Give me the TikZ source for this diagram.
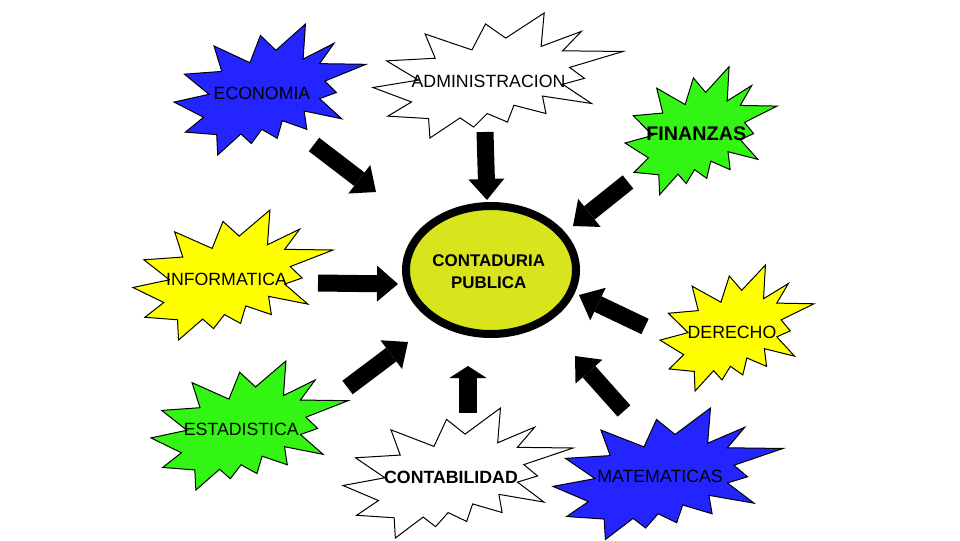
\documentclass[tikz,border=0pt]{standalone}
\usepackage{fontspec}
\setmainfont{Liberation Sans}
\usetikzlibrary{arrows.meta}
\definecolor{burstblue}{HTML}{2424FF}
\definecolor{burstgreen}{HTML}{33F514}
\definecolor{burstyellow}{HTML}{FFFF00}
\definecolor{corefill}{HTML}{D8E41C}

% explosion outline on a 100 x 100 frame, placed at (#1,#2) with size #3 x #4
\newcommand{\drawburst}[5]{%
  \begin{scope}[shift={(#1,#2)}, xscale=#3/100, yscale=#4/100]
    \filldraw[fill=#5, draw=black, line width=0.75pt, line join=miter]
      (53.07,20.09) -- (45.01,8.74) -- (39.57,29.55) -- (20.85,16.79)
      -- (24.88,36.19) -- (5.44,38.29) -- (18.21,53.67) -- (0,59.61)
      -- (15.41,71.17) -- (5.94,82.52) -- (22.24,84.44) -- (22.77,100)
      -- (34.84,83.91) -- (40.27,91.26) -- (45.70,80.42) -- (53.77,87.24)
      -- (56.38,73.78) -- (69.18,80.42) -- (67.78,66.43) -- (87.40,72.37)
      -- (75.84,57.00) -- (84.58,52.28) -- (78.64,43.54) -- (100,30.77)
      -- (75.84,30.25) -- (83.36,14.69) -- (67.24,26.75) -- (68.47,0)
      -- cycle;
  \end{scope}}

\tikzset{
  burstlabel/.style={font=\fontsize{13.3}{16}\selectfont, inner sep=0pt},
  boldlabel/.style={burstlabel, font=\fontsize{13.3}{16}\selectfont\bfseries},
  blockarrow/.style={line width=12.75pt,
    -{Triangle[length=15.75pt, width=27pt, line width=0pt]}},
  flatarrow/.style={line width=14pt,
    -{Triangle[length=9pt, width=28pt, line width=0pt]}},
}

\begin{document}
\begin{tikzpicture}[x=0.75pt,y=-0.75pt]
    \path[use as bounding box] (0,0) rectangle (960,540);

    % the eight explosions round the centre
    \foreach \bx/\by/\bw/\bh/\bcol in {174/24/192/131/burstblue,
      373/13/250/125/white, 625/66.7/152/128/burstgreen,
      133/210/200/130/burstyellow, 660/265/154/126/burstyellow,
      151/361/197/129/burstgreen, 343/408/230/130/white,
      553/408/230/131.5/burstblue} {
      \drawburst{\bx}{\by}{\bw}{\bh}{\bcol}
    }

    \node[burstlabel] (economia) at (262,93) {ECONOMIA};
    \node[burstlabel] (administracion) at (488.5,81) {ADMINISTRACION};
    \node[boldlabel, font=\fontsize{14.8}{17}\selectfont\bfseries]
      (finanzas) at (696.3,133.7) {FINANZAS};
    \node[burstlabel] (informatica) at (226.5,279.5) {INFORMATICA};
    \node[burstlabel] (derecho) at (732,332) {DERECHO};
    \node[burstlabel] (estadistica) at (241.3,429.5) {ESTADISTICA};
    \node[boldlabel] (contabilidad) at (451,477) {CONTABILIDAD};
    \node[burstlabel] (matematicas) at (660,476.5) {MATEMATICAS};

    % centre
    \filldraw[fill=corefill, draw=black, line width=6pt]
      (491,270) ellipse[x radius=85, y radius=64];
    \node[font=\fontsize{12.7}{17}\selectfont\bfseries, align=center,
      inner sep=0pt] (contaduria) at (488.7,271.5) {CONTADURIA\\PUBLICA};

    % arrow ends
    \coordinate (economia-tail) at (314,144.5);
    \coordinate (economia-tip) at (376,192);
    \coordinate (administracion-tail) at (485,132);
    \coordinate (administracion-tip) at (487,200);
    \coordinate (finanzas-tail) at (628,182);
    \coordinate (finanzas-tip) at (573,226);
    \coordinate (informatica-tail) at (318,283);
    \coordinate (informatica-tip) at (398,284);
    \coordinate (derecho-tail) at (645,326.5);
    \coordinate (derecho-tip) at (579,295);
    \coordinate (matematicas-tail) at (624,411);
    \coordinate (matematicas-tip) at (575,356);
    \coordinate (estadistica-tail) at (347.5,387.5);
    \coordinate (estadistica-tip) at (408,342);
    \coordinate (contabilidad-tail) at (468,413);
    \coordinate (contabilidad-tip) at (468,366);

    \foreach \from in {economia,administracion,finanzas,informatica,
      derecho,matematicas,estadistica} {
      \draw[blockarrow] (\from-tail) -- (\from-tip);
    }
    \draw[flatarrow] (contabilidad-tail) -- (contabilidad-tip);
\end{tikzpicture}
\end{document}
